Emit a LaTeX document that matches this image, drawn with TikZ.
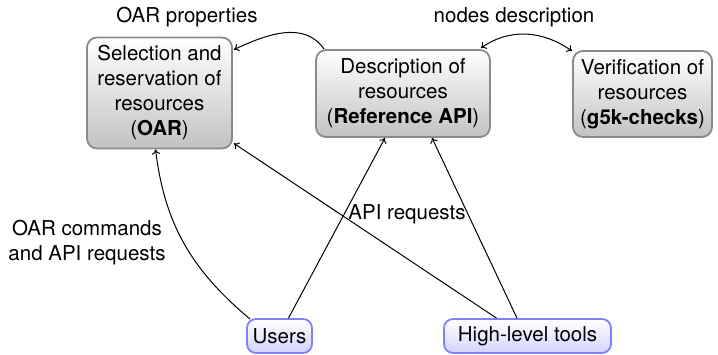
\documentclass[tikz,border=0pt]{standalone}
\usepackage{fontspec}
\setmainfont{TeX Gyre Heros}
\usetikzlibrary{arrows.meta}
\definecolor{boxgray}{HTML}{8A8A8A}
\definecolor{boxfill}{HTML}{C2C2C2}
\definecolor{boxblue}{HTML}{8080FF}
\definecolor{fillblue}{HTML}{D4D4FF}
\begin{document}
\begin{tikzpicture}[x=1pt,y=1pt,
  font=\fontsize{20.5}{25}\selectfont,
  resbox/.style={draw=boxgray, line width=1.8pt, rounded corners=10pt,
    top color=white, bottom color=boxfill, align=center, inner sep=0pt},
  actbox/.style={draw=boxblue, line width=1.8pt, rounded corners=9pt,
    top color=white, bottom color=fillblue, inner sep=0pt,
    minimum height=34pt},
  lbl/.style={inner sep=0pt, align=center},
  arr/.style={->, line width=1pt, >={To[length=5pt,width=8pt]}}
]
\useasboundingbox (0,0) rectangle (718,354);

\node[resbox, minimum width=145pt, minimum height=111pt] (oar) at (159.5,261)
  {Selection and\\reservation of\\resources\\(\textbf{OAR})};
\node[resbox, minimum width=174pt, minimum height=87pt] (ref) at (403,260.5)
  {Description of\\resources\\(\textbf{Reference API})};
\node[resbox, minimum width=139pt, minimum height=86pt] (g5k) at (642.5,260)
  {Verification of\\resources\\(\textbf{g5k-checks})};

\node[actbox, minimum width=65pt] (users) at (279.5,18) {Users};
\node[actbox, minimum width=167pt] (tools) at (527.5,18) {High-level tools};

\node[lbl] (lprop) at (187,337) {OAR properties};
\node[lbl] (lnodes) at (514,337) {nodes description};
\node[lbl] (lapi) at (407,140) {API requests};
\node[lbl] (lcmd) at (87,111) {OAR commands\\and API requests};

\draw[arr] ([xshift=9pt]ref.north west) to[out=125,in=25] ([xshift=1pt,yshift=-13pt]oar.north east);
\draw[arr,<->] ([xshift=-10pt,yshift=1pt]ref.north east) to[out=35,in=145] ([yshift=-1pt]g5k.north west);
\draw[arr] ([xshift=4pt,yshift=-1pt]users.north west) to[out=140,in=-83] ([xshift=-4pt]oar.south);
\draw[arr] ([xshift=9pt]users.north) -- ([xshift=-18pt]ref.south);
\draw[arr] ([xshift=-31pt]tools.north) -- ([xshift=1pt,yshift=6pt]oar.south east);
\draw[arr] ([xshift=-10.5pt]tools.north) -- ([xshift=29pt]ref.south);
\end{tikzpicture}
\end{document}
